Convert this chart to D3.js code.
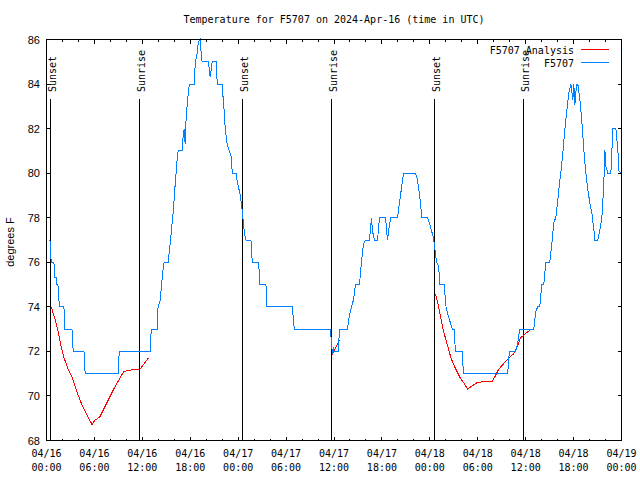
<!DOCTYPE html>
<html><head><meta charset="utf-8">
<script src="https://cdn.jsdelivr.net/npm/d3@7"></script>
<style>body{margin:0;background:#fff}svg{display:block}</style>
</head><body>
<svg id="chart" width="640" height="480"></svg>
<script>
// ---- data ----
const titleText = "Temperature for F5707 on 2024-Apr-16 (time in UTC)";
const yLabel = "degrees F";
const tickHours = [0,6,12,18,24,30,36,42,48,54,60,66,72];
const tickDates = ["04/16","04/16","04/16","04/16","04/17","04/17","04/17","04/17","04/18","04/18","04/18","04/18","04/19"];
const tickTimes = ["00:00","06:00","12:00","18:00","00:00","06:00","12:00","18:00","00:00","06:00","12:00","18:00","00:00"];
const minorTickHours = d3.range(0, 73, 2);
const yTicks = [68,70,72,74,76,78,80,82,84,86];
const eventHours = [0.54, 11.70, 24.50, 35.66, 48.58, 59.74];
const eventLabels = ["Sunset","Sunrise","Sunset","Sunrise","Sunset","Sunrise"];
const seriesNames = ["F5707 Analysis","F5707"];
const seriesColors = ["#ff0000","#0080ff"];

// observed F5707 (hours since 04/16 00:00 UTC, deg F)
const obsHours = [0.43,0.49,0.58,0.93,1.05,1.20,1.30,1.43,1.56,1.68,
2.18,2.31,3.19,3.34,4.69,4.84,8.96,9.11,12.97,13.12,
13.85,13.97,14.23,14.35,14.60,14.73,15.23,15.35,15.50,15.73,
15.88,16.13,16.36,16.48,16.98,17.14,17.24,17.36,17.49,17.64,
17.89,18.49,18.64,18.87,19.02,19.24,19.39,19.49,20.25,20.37,
20.50,20.75,21.25,21.38,22.00,22.13,22.25,22.38,22.63,22.88,
23.13,23.26,23.76,23.88,24.22,24.39,24.54,24.79,24.98,25.60,
25.73,25.79,26.48,26.61,26.73,27.48,27.61,30.78,31.03,35.55,
35.80,35.93,35.99,36.55,36.68,37.68,37.93,38.18,38.43,38.69,
39.19,39.44,39.69,39.94,40.44,40.69,40.82,41.07,41.45,41.70,
42.45,42.70,42.95,43.13,43.95,44.08,44.33,44.58,44.71,46.21,
46.46,46.71,46.84,46.97,47.72,47.97,48.22,48.47,48.56,48.85,
49.10,49.27,49.78,50.03,50.31,50.56,50.82,51.07,51.19,52.07,
52.20,57.75,57.88,58.01,58.76,59.01,59.26,61.01,61.27,61.52,
61.77,62.02,62.27,62.52,63.02,63.27,63.52,63.77,64.02,64.28,
64.40,64.65,64.90,65.15,65.40,65.66,65.91,66.03,66.16,66.28,
66.41,66.53,66.79,67.04,67.29,67.54,67.79,68.04,68.29,68.54,
68.67,69.04,69.29,69.54,69.67,69.80,69.92,70.05,70.30,70.67,
70.92,71.30,71.55,71.68,72.0];
const obsTemps = [77.0,76.8,76.0,76.0,75.3,75.3,75.0,75.0,74.3,74.0,
74.0,73.0,73.0,72.0,72.0,71.0,71.0,72.0,72.0,73.0,
73.0,74.0,74.3,74.75,75.7,76.0,76.0,76.4,76.9,77.75,
78.3,79.6,80.6,81.0,81.0,81.8,82.0,81.3,82.5,83.2,
84.0,84.0,85.0,85.4,85.9,86.0,85.3,85.0,85.0,84.7,
84.3,85.0,85.0,84.0,84.0,83.3,82.8,82.0,81.3,81.0,
80.75,80.0,80.0,79.6,79.1,78.65,78.2,77.3,77.0,77.0,
76.2,76.0,76.0,75.7,75.0,75.0,74.0,74.0,73.0,73.0,
71.9,72.2,72.0,72.0,73.0,73.0,73.6,74.0,74.3,75.0,
75.0,76.0,76.8,77.0,77.0,78.0,77.4,77.0,77.0,78.0,
78.0,77.0,77.7,78.0,78.0,78.35,79.0,79.7,80.0,80.0,
79.7,79.0,78.7,78.0,78.0,77.75,77.4,77.1,76.8,76.0,
75.8,75.0,75.0,74.0,73.6,73.3,73.0,73.0,72.0,72.0,
71.0,71.0,71.7,72.0,72.0,72.4,73.0,73.0,73.8,74.0,
74.0,75.0,75.0,76.0,76.0,76.8,77.8,78.0,78.8,79.7,
80.0,80.9,81.95,82.8,83.6,84.0,83.3,84.0,83.05,83.6,
84.0,84.0,83.3,82.3,81.0,80.0,79.25,78.65,78.2,77.45,
77.0,77.0,77.45,78.0,78.8,79.7,81.05,80.3,80.0,80.0,
82.0,82.0,81.0,80.1,80.0];

// analysis (null = gap)
const anaHours = [0.60,1.10,1.52,1.77,2.15,2.77,3.19,3.74,4.44,4.99,5.70,6.03,6.66,7.50,8.33,9.04,9.67,10.09,11.14,11.72,12.22,12.77,
null,35.80,36.14,36.68,
null,48.60,48.75,48.90,49.19,49.44,49.72,50.15,50.65,51.19,51.82,52.23,52.73,53.29,53.91,54.54,55.80,56.21,56.62,57.25,57.88,58.51,58.93,59.35,59.97,60.72];
const anaTemps = [74.0,73.4,72.8,72.3,71.75,71.15,70.85,70.25,69.6,69.2,68.72,68.9,69.05,69.65,70.25,70.7,71.1,71.13,71.2,71.2,71.45,71.7,
null,71.86,72.1,72.5,
null,74.6,74.5,74.3,73.85,73.4,72.9,72.35,71.7,71.25,70.8,70.6,70.3,70.45,70.6,70.63,70.65,70.9,71.2,71.45,71.7,71.9,72.2,72.6,72.8,73.0];

// ---- drawing ----
const L = 46.5, R = 621.5, T = 39.5, B = 440.5;
const svg = d3.select("#chart");
const x = d3.scaleLinear().domain([0,72]).range([L,R]);
const y = d3.scaleLinear().domain([68,86]).range([B,T]);
const mono = "'DejaVu Sans Mono', 'Liberation Mono', monospace";
const sans = "'Liberation Sans', Arial, sans-serif";
const snap = v => Math.round(v - 0.5) + 0.5;

svg.append("rect").attr("width",640).attr("height",480).attr("fill","#fff");

const g = svg.append("g").attr("shape-rendering","crispEdges");

// ticks
const tk = g.append("g").attr("stroke","#000").attr("stroke-width",1);
minorTickHours.forEach(h => {
  const major = tickHours.includes(h);
  const len = major ? 4 : 2;
  const xx = snap(x(h));
  tk.append("line").attr("x1",xx).attr("x2",xx).attr("y1",B).attr("y2",B-len);
  tk.append("line").attr("x1",xx).attr("x2",xx).attr("y1",T).attr("y2",T+len);
});
yTicks.forEach(v => {
  const yy = snap(y(v));
  tk.append("line").attr("x1",L).attr("x2",L+4).attr("y1",yy).attr("y2",yy);
  tk.append("line").attr("x1",R).attr("x2",R-4).attr("y1",yy).attr("y2",yy);
});

// event lines
eventHours.forEach((h,i) => {
  const xx = snap(x(h));
  g.append("line").attr("x1",xx).attr("x2",xx).attr("y1",99).attr("y2",B)
    .attr("stroke","#000").attr("stroke-width",1);
  svg.append("text").attr("transform",`translate(${xx+5},92) rotate(-90)`)
    .attr("text-anchor","start").attr("font-family",mono).attr("font-size",10)
    .attr("fill","#000").text(eventLabels[i]);
});

// series
const line = d3.line().defined(d => d[1] !== null).x(d => x(d[0])).y(d => y(d[1]));
const anaData = anaHours.map((h,i) => [h, anaTemps[i]]);
const obsData = obsHours.map((h,i) => [h, obsTemps[i]]);
g.append("path").datum(anaData).attr("d",line).attr("fill","none")
  .attr("stroke",seriesColors[0]).attr("stroke-width",1);
g.append("path").datum(obsData).attr("d",line).attr("fill","none")
  .attr("stroke",seriesColors[1]).attr("stroke-width",1);

// border
g.append("rect").attr("x",L).attr("y",T).attr("width",R-L).attr("height",B-T)
  .attr("fill","none").attr("stroke","#000").attr("stroke-width",1);

// y tick labels
yTicks.forEach(v => {
  svg.append("text").attr("x",40).attr("y",y(v)+4).attr("text-anchor","end")
    .attr("font-family",sans).attr("font-size",11).attr("fill","#000").text(v);
});
// x tick labels
tickHours.forEach((h,i) => {
  const t = svg.append("text").attr("text-anchor","middle")
    .attr("font-family",mono).attr("font-size",10).attr("fill","#000");
  t.append("tspan").attr("x",x(h)).attr("y",457).text(tickDates[i]);
  t.append("tspan").attr("x",x(h)).attr("y",471).text(tickTimes[i]);
});

// title
svg.append("text").attr("x",(L+R)/2).attr("y",23).attr("text-anchor","middle")
  .attr("font-family",mono).attr("font-size",10).attr("fill","#000").text(titleText);
// y label
svg.append("text").attr("transform","translate(14,242) rotate(-90)").attr("text-anchor","middle")
  .attr("font-family",sans).attr("font-size",11).attr("fill","#000").text(yLabel);

// legend
seriesNames.forEach((n,i) => {
  const cy = 49.5 + i*13;
  svg.append("text").attr("x",574).attr("y",cy+4).attr("text-anchor","end")
    .attr("font-family",mono).attr("font-size",10).attr("fill","#000").text(n);
  g.append("line").attr("x1",581).attr("x2",609).attr("y1",cy).attr("y2",cy)
    .attr("stroke",seriesColors[i]).attr("stroke-width",1);
});
</script>
</body></html>
